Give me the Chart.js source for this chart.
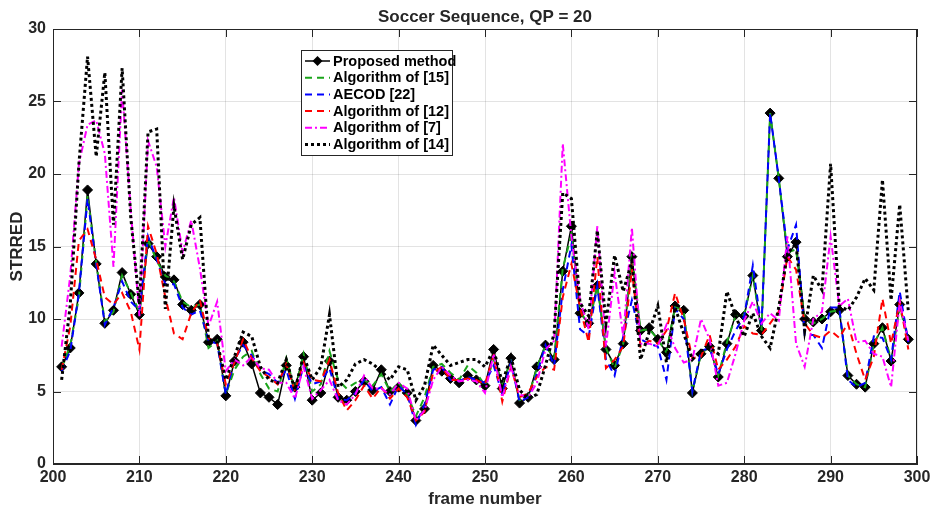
<!DOCTYPE html>
<html>
<head>
<meta charset="utf-8">
<title>Soccer Sequence, QP = 20</title>
<script src="https://cdn.jsdelivr.net/npm/chart.js@4.4.1/dist/chart.umd.min.js"></script>
<style>
  html, body { margin: 0; padding: 0; background: #fff; }
  canvas { display: block; }
</style>
</head>
<body>
<canvas id="strredChart" width="938" height="509"></canvas>
<script>
// Datos (frames 201-299)
const frames = [
  201, 202, 203, 204, 205, 206, 207, 208, 209, 210,
  211, 212, 213, 214, 215, 216, 217, 218, 219, 220,
  221, 222, 223, 224, 225, 226, 227, 228, 229, 230,
  231, 232, 233, 234, 235, 236, 237, 238, 239, 240,
  241, 242, 243, 244, 245, 246, 247, 248, 249, 250,
  251, 252, 253, 254, 255, 256, 257, 258, 259, 260,
  261, 262, 263, 264, 265, 266, 267, 268, 269, 270,
  271, 272, 273, 274, 275, 276, 277, 278, 279, 280,
  281, 282, 283, 284, 285, 286, 287, 288, 289, 290,
  291, 292, 293, 294, 295, 296, 297, 298, 299
];

const proposed = [
  6.7, 8.0, 11.8, 18.9, 13.8, 9.7, 10.6, 13.2, 11.7, 10.3,
  15.2, 14.3, 12.9, 12.7, 11.0, 10.6, 11.0, 8.4, 8.6, 4.7,
  7.1, 8.4, 6.9, 4.9, 4.6, 4.1, 6.8, 5.3, 7.4, 4.4,
  4.9, 7.1, 4.6, 4.4, 5.0, 5.7, 5.1, 6.5, 5.0, 5.3,
  4.9, 3.0, 3.8, 6.8, 6.4, 5.9, 5.6, 6.1, 5.8, 5.4,
  7.9, 5.2, 7.3, 4.2, 4.6, 6.7, 8.2, 7.2, 13.3, 16.4,
  10.4, 9.7, 12.3, 7.9, 6.8, 8.3, 14.3, 9.2, 9.4, 8.6,
  7.7, 10.9, 10.6, 4.9, 7.6, 8.1, 6.0, 8.3, 10.3, 10.2,
  13.0, 9.2, 24.2, 19.7, 14.3, 15.3, 10.0, 9.8, 10.0, 10.5,
  10.6, 6.1, 5.5, 5.3, 8.3, 9.4, 7.1, 11.0, 8.6
];

const alg15 = [
  6.6, 8.2, 11.5, 18.5, 13.9, 9.8, 10.5, 13.0, 11.8, 10.5,
  15.5, 14.0, 13.0, 12.6, 11.2, 10.8, 11.0, 8.0, 8.5, 4.8,
  6.5, 7.4, 7.8, 6.2, 5.2, 5.0, 7.3, 5.1, 7.6, 5.0,
  5.5, 7.8, 5.8, 5.2, 5.6, 5.8, 5.4, 6.2, 5.0, 5.6,
  4.8, 3.3, 4.6, 6.7, 6.9, 6.3, 5.8, 6.8, 6.3, 5.4,
  7.2, 5.6, 7.1, 4.4, 4.6, 6.6, 8.2, 7.3, 13.5, 15.8,
  10.6, 9.5, 12.3, 8.0, 6.6, 8.3, 14.5, 9.2, 9.3, 8.6,
  7.7, 10.8, 10.6, 5.0, 7.6, 8.1, 6.1, 8.4, 10.2, 10.3,
  13.0, 9.2, 24.2, 19.7, 14.6, 14.8, 10.0, 9.7, 10.0, 10.5,
  10.6, 6.1, 5.5, 5.3, 8.3, 9.4, 7.2, 10.8, 8.6
];

const aecod22 = [
  6.4, 7.8, 11.8, 18.3, 13.8, 9.6, 10.8, 12.6, 11.2, 10.6,
  15.7, 14.1, 12.4, 12.4, 10.8, 10.3, 10.6, 8.5, 8.3, 4.8,
  7.2, 8.2, 7.5, 6.5, 6.2, 5.6, 6.5, 4.5, 6.8, 5.5,
  5.7, 6.6, 4.5, 4.4, 4.9, 5.8, 5.0, 5.3, 4.1, 5.4,
  4.8, 2.7, 4.1, 6.5, 6.7, 5.8, 5.7, 6.0, 5.8, 5.6,
  6.8, 4.8, 7.0, 4.3, 4.6, 6.2, 8.2, 6.8, 12.0, 15.1,
  9.3, 8.8, 12.3, 7.2, 6.1, 8.8, 11.3, 8.6, 8.3, 8.1,
  5.8, 10.7, 10.0, 5.0, 7.8, 8.0, 6.2, 7.9, 9.2, 10.2,
  13.7, 9.4, 24.2, 19.7, 14.8, 16.5, 8.9, 8.9, 8.0, 10.8,
  10.8, 5.8, 5.3, 5.6, 8.8, 8.7, 7.2, 11.9, 8.4
];

const alg12 = [
  6.5, 9.5, 15.4, 16.2, 14.1, 11.5, 11.0, 11.8, 10.5, 7.9,
  16.4, 14.5, 11.5, 9.0, 8.6, 10.4, 11.3, 8.7, 8.3, 5.5,
  7.0, 8.6, 7.3, 6.4, 6.0, 5.5, 6.9, 5.0, 7.0, 5.8,
  5.7, 7.2, 4.9, 3.7, 4.4, 5.4, 4.5, 5.3, 4.5, 5.2,
  4.6, 3.0, 3.6, 6.3, 6.7, 5.8, 5.8, 5.9, 5.8, 5.5,
  7.5, 4.3, 6.7, 4.6, 4.9, 6.0, 6.7, 6.5, 11.5, 13.8,
  10.8, 8.4, 14.3, 6.6, 7.2, 8.1, 13.4, 8.1, 8.5, 8.3,
  9.2, 11.8, 10.0, 7.3, 7.4, 8.9, 6.5, 7.2, 8.1, 9.5,
  9.0, 8.9, 9.7, 10.5, 14.3, 13.4, 9.7, 8.9, 8.7, 9.2,
  8.7, 9.7, 7.6, 5.8, 7.4, 11.4, 8.3, 11.2, 7.9
];

const alg7 = [
  8.1, 13.0, 20.7, 23.4, 23.7, 21.4, 13.6, 25.8, 17.5, 10.2,
  22.3, 20.5, 15.0, 18.4, 14.6, 16.8, 13.5, 9.5, 11.2, 6.4,
  7.2, 6.8, 7.4, 6.6, 6.5, 5.6, 5.6, 4.5, 6.7, 4.5,
  5.1, 5.8, 4.4, 4.1, 4.8, 6.1, 5.2, 5.2, 4.8, 5.6,
  5.2, 3.0, 3.7, 5.8, 6.7, 6.1, 5.7, 5.8, 5.7, 4.9,
  7.6, 4.6, 6.7, 4.8, 4.6, 5.6, 7.9, 8.5, 22.1, 15.7,
  11.3, 9.3, 16.4, 8.1, 13.2, 8.8, 16.3, 8.3, 8.3, 8.1,
  9.6, 8.0, 7.0, 7.2, 10.0, 8.6, 5.4, 5.6, 7.6, 9.9,
  11.2, 9.7, 10.4, 9.9, 15.7, 8.3, 6.7, 10.0, 10.5, 15.7,
  10.9, 11.4, 8.4, 8.5, 7.6, 7.4, 5.3, 11.2, 8.5
];

const alg14 = [
  5.8, 11.0, 20.7, 28.1, 21.2, 27.0, 16.5, 27.3, 17.0, 11.0,
  22.9, 23.1, 10.7, 17.8, 14.1, 16.5, 17.0, 8.6, 8.4, 5.8,
  7.4, 9.1, 8.8, 6.7, 5.8, 5.6, 7.2, 5.1, 7.5, 5.8,
  6.7, 10.3, 5.3, 5.8, 6.9, 7.2, 6.9, 6.4, 5.8, 6.7,
  6.5, 4.4, 5.4, 8.2, 7.5, 6.8, 7.0, 7.2, 7.2, 6.7,
  7.9, 5.6, 7.4, 5.1, 4.5, 4.8, 6.8, 9.0, 18.7, 18.3,
  11.1, 10.2, 16.1, 9.7, 14.4, 11.9, 14.0, 7.2, 9.1, 10.9,
  7.0, 10.8, 9.0, 7.2, 7.8, 8.0, 7.6, 11.9, 10.2, 8.8,
  10.4, 8.8, 8.0, 10.8, 14.5, 15.2, 9.2, 13.0, 12.0, 20.7,
  10.9, 10.6, 11.5, 12.8, 12.0, 19.6, 11.3, 17.9, 10.5
];

const xTicks = [200, 210, 220, 230, 240, 250, 260, 270, 280, 290, 300];
const yTicks = [0, 5, 10, 15, 20, 25, 30];

const seriesNames = ['Proposed method', 'Algorithm of [15]', 'AECOD [22]',
  'Algorithm of [12]', 'Algorithm of [7]', 'Algorithm of [14]'];

const textColor = '#262626';
const fontFam = '"Liberation Sans", Arial, Helvetica, sans-serif';

const pts = vals => vals.map((v, i) => ({ x: frames[i], y: v }));

// Estilos de cada serie (mismo orden que seriesNames)
const styles = [
  { color: '#000000', width: 1.5, dash: [], marker: true },
  { color: '#1aa51a', width: 2, dash: [7, 5] },
  { color: '#0000ff', width: 2, dash: [7, 5] },
  { color: '#ff0000', width: 2, dash: [7, 5] },
  { color: '#ff00ff', width: 2, dash: [7, 3, 2, 3] },
  { color: '#000000', width: 3, dash: [3, 3] }
];
const allValues = [proposed, alg15, aecod22, alg12, alg7, alg14];

const datasets = allValues.map((vals, i) => ({
  label: seriesNames[i],
  data: pts(vals),
  borderColor: styles[i].color,
  backgroundColor: styles[i].color,
  borderWidth: styles[i].width,
  borderDash: styles[i].dash,
  borderCapStyle: 'butt',
  pointStyle: 'rectRot',
  pointRadius: styles[i].marker ? 5 : 0,
  pointBorderWidth: 1,
  tension: 0,
  order: 6 - i
}));

// Marco, marcas interiores, título, etiquetas y leyenda
const matlabFrame = {
  id: 'matlabFrame',
  afterDraw(chart) {
    const { ctx, chartArea: a, scales: { x, y } } = chart;
    ctx.save();
    ctx.strokeStyle = textColor;
    ctx.lineWidth = 1;
    ctx.setLineDash([]);
    ctx.strokeRect(a.left + 0.5, a.top + 0.5, a.right - a.left - 1, a.bottom - a.top - 1);
    ctx.beginPath();
    xTicks.forEach(v => {
      const px = Math.round(x.getPixelForValue(v)) + 0.5;
      ctx.moveTo(px, a.bottom); ctx.lineTo(px, a.bottom - 8);
      ctx.moveTo(px, a.top); ctx.lineTo(px, a.top + 8);
    });
    yTicks.forEach(v => {
      const py = Math.round(y.getPixelForValue(v)) + 0.5;
      ctx.moveTo(a.left, py); ctx.lineTo(a.left + 8, py);
      ctx.moveTo(a.right, py); ctx.lineTo(a.right - 8, py);
    });
    ctx.stroke();

    // Títulos
    ctx.fillStyle = textColor;
    ctx.textAlign = 'center';
    ctx.textBaseline = 'middle';
    ctx.font = 'bold 17px ' + fontFam;
    ctx.fillText('Soccer Sequence, QP = 20', (a.left + a.right) / 2, 17);
    ctx.fillText('frame number', (a.left + a.right) / 2, 499);
    ctx.save();
    ctx.translate(17, (a.top + a.bottom) / 2);
    ctx.rotate(-Math.PI / 2);
    ctx.fillText('STRRED', 0, 0);
    ctx.restore();

    // Leyenda
    const lx = 301.5, ly = 50.5, lw = 151, lh = 105;
    ctx.fillStyle = '#ffffff';
    ctx.fillRect(lx, ly, lw, lh);
    ctx.strokeStyle = textColor;
    ctx.strokeRect(lx, ly, lw, lh);
    ctx.font = 'bold 14.5px ' + fontFam;
    ctx.textAlign = 'left';
    seriesNames.forEach((name, i) => {
      const ry = 61 + i * 16.7;
      const s = styles[i];
      ctx.strokeStyle = s.color;
      ctx.lineWidth = s.width;
      ctx.setLineDash(s.dash);
      ctx.lineCap = 'butt';
      ctx.beginPath();
      ctx.moveTo(305, ry);
      ctx.lineTo(330, ry);
      ctx.stroke();
      ctx.setLineDash([]);
      if (s.marker) {
        ctx.fillStyle = '#000';
        ctx.beginPath();
        ctx.moveTo(317.5, ry - 5);
        ctx.lineTo(322.5, ry);
        ctx.lineTo(317.5, ry + 5);
        ctx.lineTo(312.5, ry);
        ctx.closePath();
        ctx.fill();
      }
      ctx.fillStyle = '#000';
      ctx.fillText(name, 333, ry + 0.5);
    });
    ctx.restore();
  }
};

const tickFont = { family: fontFam, size: 16, weight: 'bold' };
const gridColor = 'rgba(38,38,38,0.13)';

new Chart(document.getElementById('strredChart'), {
  type: 'line',
  data: { datasets },
  options: {
    responsive: false,
    animation: false,
    devicePixelRatio: 1,
    layout: { padding: { top: 29, right: 21, left: 0, bottom: 0 } },
    plugins: {
      legend: { display: false },
      title: { display: false },
      tooltip: { enabled: false }
    },
    scales: {
      x: {
        type: 'linear',
        min: 200, max: 300,
        afterBuildTicks: s => { s.ticks = xTicks.map(v => ({ value: v })); },
        afterFit: s => { s.height = 45; },
        ticks: { font: tickFont, color: textColor, padding: 4, maxRotation: 0 },
        grid: { color: gridColor, drawTicks: false },
        border: { color: textColor }
      },
      y: {
        min: 0, max: 30,
        afterBuildTicks: s => { s.ticks = yTicks.map(v => ({ value: v })); },
        afterFit: s => { s.width = 53; },
        ticks: { font: tickFont, color: textColor, padding: 7 },
        grid: { color: gridColor, drawTicks: false },
        border: { color: textColor }
      }
    }
  },
  plugins: [matlabFrame]
});
</script>
</body>
</html>
